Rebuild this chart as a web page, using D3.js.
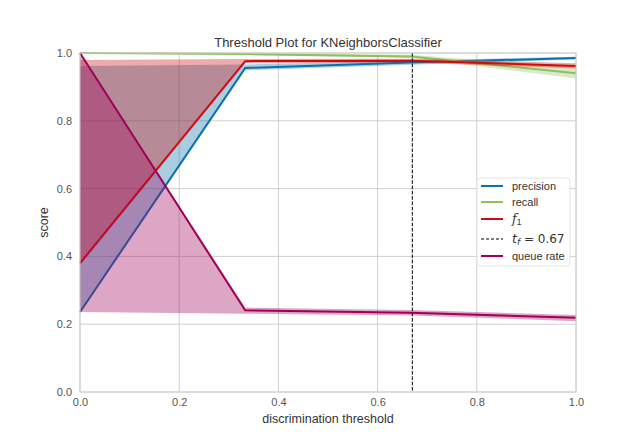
<!DOCTYPE html>
<html>
<head>
<meta charset="utf-8">
<script src="https://cdn.jsdelivr.net/npm/d3@7"></script>
<style>
  body { margin: 0; background: #fff; }
  text { font-family: "Liberation Sans", Arial, sans-serif; }
</style>
</head>
<body>
<svg id="chart" width="640" height="440"></svg>
<script>
// threshold plot data
var thresholds = [0.0, 0.333, 0.667, 1.0];

var precision    = [0.236, 0.956, 0.972, 0.985];
var precision_lo = [0.232, 0.949, 0.965, 0.981];
var precision_hi = [0.962, 0.966, 0.978, 0.989];

var recall    = [1.000, 0.997, 0.990, 0.940];
var recall_lo = [0.999, 0.994, 0.985, 0.925];
var recall_hi = [1.000, 1.000, 0.995, 0.958];

var f1    = [0.380, 0.976, 0.977, 0.962];
var f1_lo = [0.374, 0.970, 0.972, 0.954];
var f1_hi = [0.979, 0.982, 0.983, 0.970];

var queue    = [1.000, 0.241, 0.234, 0.219];
var queue_lo = [0.236, 0.231, 0.226, 0.209];
var queue_hi = [1.000, 0.249, 0.242, 0.227];

var opt_threshold = 0.67;

var x_ticks = [0.0, 0.2, 0.4, 0.6, 0.8, 1.0];
var y_ticks = [0.0, 0.2, 0.4, 0.6, 0.8, 1.0];

var series = [
    {name: "precision",  color: "#0a72ad", mid: precision, lo: precision_lo, hi: precision_hi},
    {name: "recall",     color: "#8fbf5f", mid: recall,    lo: recall_lo,    hi: recall_hi},
    {name: "f1",         color: "#d00c0c", mid: f1,        lo: f1_lo,        hi: f1_hi},
    {name: "queue rate", color: "#a0005a", mid: queue,     lo: queue_lo,     hi: queue_hi}
];

var margin = {left: 80, top: 53, right: 64, bottom: 48};
var width = 640 - margin.left - margin.right,
    height = 440 - margin.top - margin.bottom;

var root = d3.select("#chart");
var svg = root.append("g")
              .attr("transform", "translate(" + margin.left + "," + margin.top + ")");

var x = d3.scaleLinear().domain([0, 1]).range([0, width]);
var y = d3.scaleLinear().domain([0, 1]).range([height, 0]);

// grid
svg.selectAll(".gx")
   .data(x_ticks)
   .enter()
   .append("line")
   .attr("x1", d => x(d)).attr("x2", d => x(d))
   .attr("y1", 0).attr("y2", height)
   .attr("stroke", "#cfcfcf").attr("stroke-width", 1);

svg.selectAll(".gy")
   .data(y_ticks)
   .enter()
   .append("line")
   .attr("y1", d => y(d)).attr("y2", d => y(d))
   .attr("x1", 0).attr("x2", width)
   .attr("stroke", "#cfcfcf").attr("stroke-width", 1);

// bands and lines
series.forEach(function(s) {
    var pts = thresholds.map((t, i) => ({t: t, m: s.mid[i], lo: s.lo[i], hi: s.hi[i]}));

    var line = d3.line()
                 .x(d => x(d.t))
                 .y(d => y(d.m));

    var area = d3.area()
                 .x(d => x(d.t))
                 .y0(d => y(d.lo))
                 .y1(d => y(d.hi));

    svg.append("path")
       .datum(pts)
       .attr("d", line)
       .attr("fill", "none")
       .attr("stroke", s.color)
       .attr("stroke-width", 2);

    svg.append("path")
       .datum(pts)
       .attr("d", area)
       .attr("fill", s.color)
       .attr("fill-opacity", 0.35)
       .attr("stroke", "none");
});

// optimal threshold
svg.append("line")
   .attr("x1", x(opt_threshold)).attr("x2", x(opt_threshold))
   .attr("y1", 0).attr("y2", height)
   .attr("stroke", "#000")
   .attr("stroke-width", 1)
   .attr("stroke-dasharray", "3.7,1.6");

// frame
svg.append("rect")
   .attr("width", width).attr("height", height)
   .attr("fill", "none")
   .attr("stroke", "#d2d2d2").attr("stroke-width", 1);

// tick labels
var xAxis = d3.axisBottom(x).tickValues(x_ticks).tickFormat(d3.format(".1f")).tickSize(0).tickPadding(6);
var yAxis = d3.axisLeft(y).tickValues(y_ticks).tickFormat(d3.format(".1f")).tickSize(0).tickPadding(8);

var gx = svg.append("g").attr("transform", "translate(0," + height + ")").call(xAxis);
var gy = svg.append("g").call(yAxis);
[gx, gy].forEach(function(g) {
    g.select(".domain").remove();
    g.selectAll("text")
     .attr("font-size", 11)
     .attr("fill", "#555")
     .style("font-family", "Liberation Sans, Arial, sans-serif");
});

// labels
svg.append("text")
   .attr("x", width / 2).attr("y", -6)
   .attr("text-anchor", "middle")
   .attr("font-size", 13).attr("fill", "#333")
   .text("Threshold Plot for KNeighborsClassifier");

svg.append("text")
   .attr("x", width / 2).attr("y", height + 31)
   .attr("text-anchor", "middle")
   .attr("font-size", 12.5).attr("fill", "#333")
   .text("discrimination threshold");

svg.append("text")
   .attr("transform", "translate(-32," + (height / 2) + ") rotate(-90)")
   .attr("text-anchor", "middle")
   .attr("font-size", 12.5).attr("fill", "#333")
   .text("score");

// legend
var legend = svg.append("g").attr("transform", "translate(397,125)");
legend.append("rect")
      .attr("width", 93).attr("height", 88)
      .attr("rx", 3)
      .attr("fill", "#fff").attr("fill-opacity", 0.85)
      .attr("stroke", "#e4e4e4");

var leg_items = [
    {label: "precision", color: series[0].color, dash: null},
    {label: "recall",    color: series[1].color, dash: null},
    {label: "f1",        color: series[2].color, dash: null},
    {label: "tf",        color: "#000",          dash: "3,2"},
    {label: "queue rate", color: series[3].color, dash: null}
];
var leg_y = [8, 24, 41, 61, 78];

leg_items.forEach(function(d, i) {
    var row = legend.append("g").attr("transform", "translate(0," + leg_y[i] + ")");
    row.append("line")
       .attr("x1", 4).attr("x2", 26)
       .attr("stroke", d.color)
       .attr("stroke-width", d.dash ? 1 : 2)
       .attr("stroke-dasharray", d.dash);
    var t = row.append("text")
               .attr("x", 35).attr("y", 4)
               .attr("font-size", 11).attr("fill", "#333");
    if (d.label === "f1") {
        t.append("tspan").attr("font-style", "italic").attr("font-size", 12.5)
         .style("font-family", "DejaVu Serif, serif").text("f");
        t.append("tspan").attr("font-size", 8.5).attr("dy", 2).text("1");
    } else if (d.label === "tf") {
        t.append("tspan").attr("font-style", "italic").attr("font-size", 12.5)
         .style("font-family", "DejaVu Sans, sans-serif").text("t");
        t.append("tspan").attr("font-style", "italic").attr("font-size", 9)
         .style("font-family", "DejaVu Sans, sans-serif").attr("dy", 2).text("f");
        t.append("tspan").attr("dy", -2).attr("font-size", 12)
         .style("font-family", "DejaVu Sans, sans-serif").text(" = " + opt_threshold.toFixed(2));
    } else {
        t.text(d.label);
    }
});
</script>
</body>
</html>
